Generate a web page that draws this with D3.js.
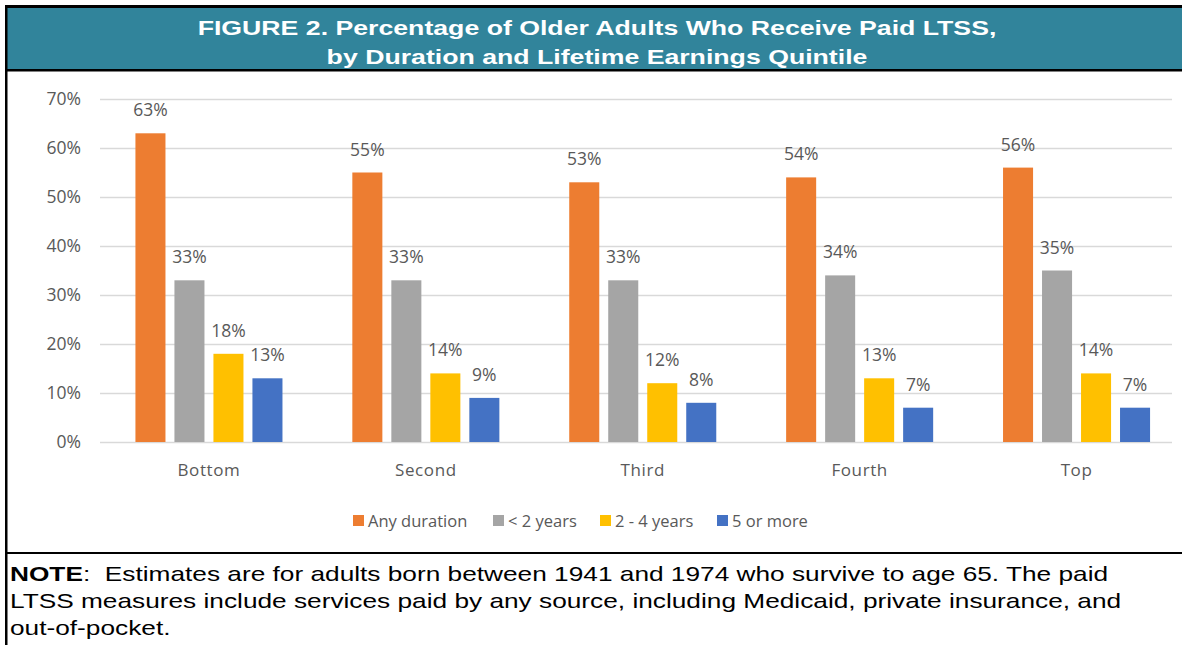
<!DOCTYPE html>
<html>
<head>
<meta charset="utf-8">
<script src="https://cdn.jsdelivr.net/npm/d3@7"></script>
<style>
  html, body { margin: 0; padding: 0; background: #fff; }
  svg { display: block; }
</style>
</head>
<body>
<svg id="chart" width="1182" height="645"></svg>
<script>
const categories = ["Bottom", "Second", "Third", "Fourth", "Top"];
const seriesNames = ["Any duration", "< 2 years", "2 - 4 years", "5 or more"];
const anyDuration = [63, 55, 53, 54, 56];
const lessThan2 = [33, 33, 33, 34, 35];
const twoToFour = [18, 14, 12, 13, 14];
const fiveOrMore = [13, 9, 8, 7, 7];
const yTicks = [0, 10, 20, 30, 40, 50, 60, 70];
const colors = ["#ED7D31", "#A5A5A5", "#FFC000", "#4472C4"];
const titleLines = ["FIGURE 2. Percentage of Older Adults Who Receive Paid LTSS,", "by Duration and Lifetime Earnings Quintile"];
const noteLines = [
  "Estimates are for adults born between 1941 and 1974 who survive to age 65. The paid",
  "LTSS measures include services paid by any source, including Medicaid, private insurance, and",
  "out-of-pocket."
];

const seriesValues = [anyDuration, lessThan2, twoToFour, fiveOrMore];
const svg = d3.select("#chart");
const font = "'Open Sans', sans-serif";
const textColor = "#595959";
const stretch = 1.27;

// Frame & title band
svg.append("rect").attr("x", 7).attr("y", 8).attr("width", 1175).attr("height", 61).attr("fill", "#31849B");
svg.append("rect").attr("x", 5).attr("y", 5).attr("width", 1177).attr("height", 3).attr("fill", "#000");
svg.append("rect").attr("x", 5).attr("y", 5).attr("width", 2.5).attr("height", 640).attr("fill", "#000");
svg.append("rect").attr("x", 5).attr("y", 69).attr("width", 1177).attr("height", 2.5).attr("fill", "#000");
svg.append("rect").attr("x", 5).attr("y", 552).attr("width", 1177).attr("height", 2).attr("fill", "#000");

const titleG = svg.append("g").attr("transform", `translate(597,0) scale(${stretch},1)`);
titleG.selectAll("text.title").data(titleLines).enter().append("text")
  .attr("class", "title")
  .attr("x", 0).attr("y", (d, i) => 35 + i * 29)
  .attr("text-anchor", "middle")
  .attr("fill", "#fff")
  .attr("font-family", "'Liberation Sans', Arial, sans-serif")
  .attr("font-weight", "bold")
  .attr("font-size", 21)
  .text(d => d);

// Scales
const x = d3.scaleBand().domain(categories).range([100.5, 1185]).paddingInner(0).paddingOuter(0);
const xInner = d3.scaleBand().domain(seriesNames).range([-78, 78]).paddingInner(0.23).paddingOuter(0.115);
const y = d3.scaleLinear().domain([0, 70]).range([442, 99]);

// Gridlines
const grid = svg.append("g").attr("transform", "translate(100,0)")
  .call(d3.axisLeft(y).tickValues(yTicks).tickSize(-1072).tickFormat(""));
grid.select(".domain").remove();
grid.selectAll(".tick line").attr("stroke", "#D9D9D9").attr("stroke-width", 1.6);

// Y tick labels
const yAxis = svg.append("g").attr("transform", "translate(81,0)")
  .call(d3.axisLeft(y).tickValues(yTicks).tickSize(0).tickPadding(0).tickFormat(d => d + "%"));
yAxis.select(".domain").remove();
yAxis.selectAll("text").attr("fill", textColor).attr("font-family", font).attr("font-size", 17.5);

// Bars
const groups = svg.selectAll("g.grp").data(categories).enter().append("g")
  .attr("class", "grp")
  .attr("transform", d => `translate(${x(d) + x.bandwidth() / 2},0)`);

seriesNames.forEach((s, si) => {
  groups.append("rect")
    .attr("x", xInner(s))
    .attr("width", xInner.bandwidth())
    .attr("y", (d, ci) => y(seriesValues[si][ci]))
    .attr("height", (d, ci) => y(0) - y(seriesValues[si][ci]))
    .attr("fill", colors[si]);
  groups.append("text")
    .attr("x", xInner(s) + xInner.bandwidth() / 2)
    .attr("y", (d, ci) => y(seriesValues[si][ci]) - 17)
    .attr("text-anchor", "middle")
    .attr("fill", textColor)
    .attr("font-family", font)
    .attr("font-size", 17.5)
    .text((d, ci) => seriesValues[si][ci] + "%");
});

// X axis labels
const xAxis = svg.append("g").attr("transform", "translate(0,442)")
  .call(d3.axisBottom(x).tickSize(0).tickPadding(22));
xAxis.select(".domain").remove();
xAxis.selectAll("text").attr("fill", textColor).attr("font-family", font).attr("font-size", 17).attr("letter-spacing", 0.6);

// Legend
const legendX = [353, 493, 600, 717];
const legend = svg.append("g");
seriesNames.forEach((s, i) => {
  legend.append("rect").attr("x", legendX[i]).attr("y", 515).attr("width", 11).attr("height", 11).attr("fill", colors[i]);
  legend.append("text").attr("x", legendX[i] + 15).attr("y", 527)
    .attr("fill", textColor).attr("font-family", font).attr("font-size", 16.5).text(s);
});

// Note
const note = svg.append("g")
  .attr("transform", `translate(10,0) scale(1.25,1)`)
  .attr("font-family", "'Liberation Sans', Arial, sans-serif").attr("font-size", 21).attr("fill", "#000");
noteLines.forEach((line, i) => {
  const t = note.append("text").attr("x", 0).attr("y", 581 + i * 27);
  if (i === 0) {
    t.append("tspan").attr("font-weight", "bold").text("NOTE");
    t.append("tspan").text(":\u00a0 " + line);
  } else {
    t.text(line);
  }
});
</script>
</body>
</html>
